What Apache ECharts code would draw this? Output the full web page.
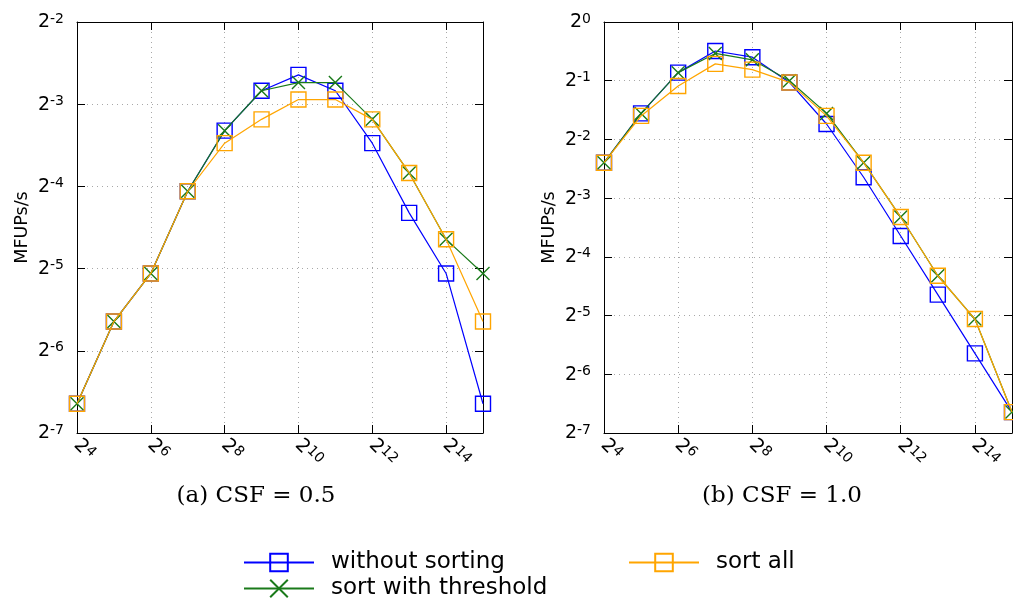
<!DOCTYPE html>
<html><head><meta charset="utf-8">
<script src="https://cdn.jsdelivr.net/npm/echarts@6/dist/echarts.min.js"></script>
<style>html,body{margin:0;padding:0;background:#fff}#c{width:1013px;height:605px}</style>
</head><body><div id="c"></div>
<script>
// problem sizes (x values)
const sizes = [16, 32, 64, 128, 256, 512, 1024, 2048, 4096, 8192, 16384, 32768];
const names = ['without sorting', 'sort with threshold', 'sort all'];
// (a) CSF = 0.5
const csf05Without   = [0.01, 0.02, 0.03, 0.06, 0.10, 0.14, 0.16, 0.14, 0.09, 0.05, 0.03, 0.01];
const csf05Threshold = [0.01, 0.02, 0.03, 0.06, 0.10, 0.14, 0.15, 0.15, 0.11, 0.07, 0.04, 0.03];
const csf05All       = [0.01, 0.02, 0.03, 0.06, 0.09, 0.11, 0.13, 0.13, 0.11, 0.07, 0.04, 0.02];
// (b) CSF = 1.0
const csf10Without   = [0.19, 0.34, 0.55, 0.71, 0.66, 0.49, 0.30, 0.16, 0.08, 0.04, 0.02, 0.01];
const csf10Threshold = [0.19, 0.34, 0.55, 0.69, 0.64, 0.50, 0.34, 0.19, 0.10, 0.05, 0.03, 0.01];
const csf10All       = [0.19, 0.33, 0.47, 0.61, 0.57, 0.49, 0.33, 0.19, 0.10, 0.05, 0.03, 0.01];
// axis ranges (powers of two)
const xRange = [16, 32768];
const yRangeA = [Math.pow(2, -7), Math.pow(2, -2)];
const yRangeB = [Math.pow(2, -7), 1];
const captions = ['(a) CSF = 0.5', '(b) CSF = 1.0'];
const yName = 'MFUPs/s';

const colors = ['#0000ff', '#1a7a1a', '#ffa500'];
const crossPath = 'path://M0,0L10,10M10,0L0,10';

function powLabel(v) {
  const e = Math.round(Math.log2(v));
  return '{b|2}{s|' + e + '}';
}
const richY = {
  b: {fontSize: 19, fontFamily: 'DejaVu Sans', color: '#000', verticalAlign: 'bottom'},
  s: {fontSize: 14, fontFamily: 'DejaVu Sans', color: '#000', verticalAlign: 'bottom', padding: [0, 0, 6, 0]}
};
const split = {show: true, lineStyle: {color: '#a8a8a8', type: [1, 4], width: 1}};

function xAxes(gi) {
  const common = {type: 'log', logBase: 2, gridIndex: gi, min: xRange[0], max: xRange[1], interval: 2,
    axisLine: {show: true, lineStyle: {color: '#000', width: 1}},
    axisTick: {show: true, inside: true, length: 8, lineStyle: {color: '#000'}},
    minorTick: {show: false}};
  return [
    Object.assign({}, common, {position: 'bottom',
      splitLine: split,
      axisLabel: {show: true, rotate: -45, margin: 9, showMaxLabel: false, formatter: powLabel, rich: richY}}),
    Object.assign({}, common, {position: 'top', splitLine: {show: false}, axisLabel: {show: false}})
  ];
}
function yAxes(gi, range) {
  const common = {type: 'log', logBase: 2, gridIndex: gi, min: range[0], max: range[1], interval: 1,
    axisLine: {show: true, lineStyle: {color: '#000', width: 1}},
    axisTick: {show: true, inside: true, length: 8, lineStyle: {color: '#000'}},
    minorTick: {show: false}};
  return [
    Object.assign({}, common, {position: 'left', splitLine: split,
      name: yName, nameLocation: 'middle', nameGap: 46, nameRotate: 90,
      nameTextStyle: {fontSize: 17.5, fontFamily: 'DejaVu Sans', color: '#000'},
      axisLabel: {show: true, margin: 13, formatter: powLabel, rich: richY}}),
    Object.assign({}, common, {position: 'right', splitLine: {show: false}, axisLabel: {show: false}})
  ];
}

function mkSeries(gi, vals) {
  return vals.map((arr, i) => {
    const isCross = i === 1;
    return {
      name: names[i], type: 'line', xAxisIndex: gi * 2, yAxisIndex: gi * 2,
      data: sizes.map((x, k) => [x, arr[k]]),
      symbol: isCross ? crossPath : 'rect',
      symbolSize: isCross ? 13 : 15,
      showAllSymbol: true, clip: false,
      lineStyle: {color: colors[i], width: 1.2},
      itemStyle: {color: isCross ? colors[i] : 'rgba(0,0,0,0)', borderColor: colors[i], borderWidth: 1.4},
      emphasis: {disabled: true},
      z: 2 + i
    };
  });
}

const legendCommon = {orient: 'horizontal', padding: 0, itemWidth: 70, itemHeight: 22, selectedMode: false,
  textStyle: {fontSize: 23, fontFamily: 'DejaVu Sans', color: '#000', padding: [0, 0, 0, 12]}};

const option = {
  backgroundColor: '#fff',
  animation: false,
  grid: [
    {left: 77, top: 22, width: 406, height: 411, containLabel: false},
    {left: 604, top: 22, width: 408, height: 411, containLabel: false}
  ],
  xAxis: xAxes(0).concat(xAxes(1)),
  yAxis: yAxes(0, yRangeA).concat(yAxes(1, yRangeB)),
  legend: [
    Object.assign({}, legendCommon, {data: [names[0]], left: 243, top: 551}),
    Object.assign({}, legendCommon, {data: [names[2]], left: 628, top: 551}),
    Object.assign({}, legendCommon, {data: [names[1]], left: 243, top: 577})
  ],
  graphic: [
    {type: 'text', x: 256, y: 496, style: {text: captions[0], fontSize: 23, fontFamily: 'DejaVu Serif', fill: '#000', align: 'center', verticalAlign: 'middle', textAlign: 'center', textVerticalAlign: 'middle'}},
    {type: 'text', x: 782, y: 496, style: {text: captions[1], fontSize: 23, fontFamily: 'DejaVu Serif', fill: '#000', align: 'center', verticalAlign: 'middle', textAlign: 'center', textVerticalAlign: 'middle'}}
  ],
  series: mkSeries(0, [csf05Without, csf05Threshold, csf05All])
    .concat(mkSeries(1, [csf10Without, csf10Threshold, csf10All]))
};
const chart = echarts.init(document.getElementById('c'), null, {renderer: 'canvas'});
chart.setOption(option);
</script>
</body></html>
